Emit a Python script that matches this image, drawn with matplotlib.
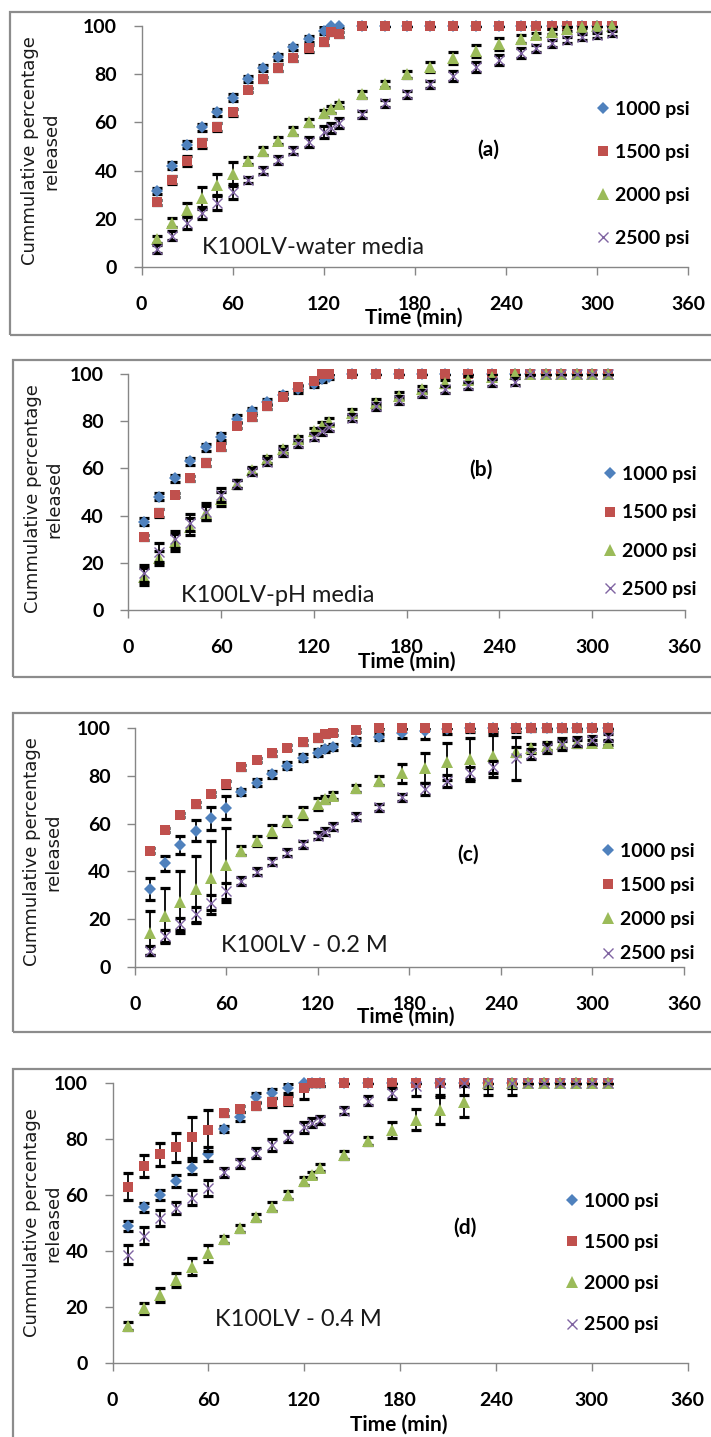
import matplotlib.pyplot as plt
from matplotlib.lines import Line2D
from matplotlib.patches import Rectangle

W, H = 711, 1437

time_min = [10, 20, 30, 40, 50, 60, 70, 80, 90, 100, 110, 120, 125, 130,
            145, 160, 175, 190, 205, 220, 235, 250, 260, 270, 280, 290, 300, 310]
pressures = ['1000 psi', '1500 psi', '2000 psi', '2500 psi']

# (a) K100LV in water
a_1000 = [31.6, 42.1, 50.8, 57.9, 64.1, 70.2, 77.9, 82.6, 87.0, 91.0, 94.6, 97.9, 100, 100,
          100, 100, 100, 100, 100, 100, 100, 100, 100, 100, 100, 100, 100, 100]
a_1500 = [26.9, 36.1, 43.9, 51.3, 58.1, 64.1, 73.4, 77.8, 82.6, 86.5, 90.6, 93.4, 97.2, 96.4,
          100, 100, 100, 100, 100, 100, 100, 100, 100, 100, 100, 100, 100, 100]
a_2000 = [11.6, 18.5, 23.7, 28.6, 34.1, 38.6, 44.1, 48.1, 52.4, 56.4, 60.0, 63.7, 65.4, 67.4,
          71.6, 75.9, 79.9, 83.0, 86.5, 89.5, 92.3, 94.5, 96.1, 97.5, 98.5, 99.6, 100, 100]
a_2500 = [7.6, 13.1, 18.5, 22.3, 26.8, 31.3, 36.1, 40.0, 44.4, 48.3, 52.0, 55.9, 57.7, 59.6,
          63.4, 67.9, 71.6, 75.7, 79.3, 83.0, 85.8, 88.6, 90.6, 92.7, 94.1, 95.2, 96.1, 96.8]
a_1000_sd = [1.2, 1.5, 1.5, 1.5, 1.5, 1.5, 1.2, 1.2, 1.2, 1.2, 1.2, 1.5, 1.2, 1.0,
             0, 0, 0, 0, 0, 0, 0, 0, 0, 0, 0, 0, 0, 0]
a_1500_sd = [1.0, 1.7, 2.0, 2.0, 1.5, 1.5, 1.0, 1.0, 1.5, 1.0, 1.5, 1.5, 1.0, 1.0,
             0, 0, 0, 0, 0, 0, 0, 0, 0, 0, 0, 0, 0, 0]
a_2000_sd = [1.5, 2.0, 3.0, 4.6, 4.5, 5.0, 1.5, 1.5, 1.5, 1.5, 1.5, 1.5, 1.5, 1.2,
             1.5, 1.2, 1.5, 2.0, 2.5, 2.5, 2.5, 1.5, 1.0, 1.0, 0.8, 0.5, 0, 0]
a_2500_sd = [1.5, 2.0, 2.5, 2.5, 3.0, 3.0, 1.2, 1.5, 1.5, 1.5, 2.0, 2.5, 2.0, 2.0,
             1.5, 1.5, 1.5, 1.5, 2.0, 2.0, 2.0, 2.0, 1.5, 1.5, 1.2, 1.2, 1.0, 1.0]

# (b) K100LV in pH medium
b_1000 = [37.4, 48.0, 55.8, 63.0, 68.9, 73.4, 81.1, 84.5, 88.0, 91.1, 93.6, 95.9, 97.7, 98.9,
          100, 100, 100, 100, 100, 100, 100, 100, 100, 100, 100, 100, 100, 100]
b_1500 = [30.8, 41.1, 48.7, 55.8, 62.4, 69.2, 78.1, 81.6, 86.3, 90.4, 94.4, 97.2, 100, 100,
          100, 100, 100, 100, 100, 100, 100, 100, 100, 100, 100, 100, 100, 100]
b_2000 = [14.1, 21.9, 28.7, 35.3, 41.2, 46.9, 53.4, 59.3, 63.8, 68.1, 72.3, 75.8, 78.0, 79.8,
          83.6, 87.9, 90.7, 93.5, 96.0, 97.5, 98.9, 100, 100, 100, 100, 100, 100, 100]
b_2500 = [15.5, 24.4, 29.9, 37.0, 41.7, 48.7, 53.4, 58.6, 62.9, 66.8, 70.6, 73.4, 75.8, 77.4,
          81.5, 86.4, 89.0, 91.8, 93.5, 95.3, 96.5, 96.8, 100, 100, 100, 100, 100, 100]
b_1000_sd = [1.5, 1.5, 1.5, 1.5, 1.5, 1.5, 1.5, 1.2, 1.2, 1.2, 1.5, 1.5, 1.2, 1.0,
             0, 0, 0, 0, 0, 0, 0, 0, 0, 0, 0, 0, 0, 0]
b_1500_sd = [1.0, 1.5, 1.0, 1.0, 1.5, 1.5, 1.0, 1.0, 1.0, 1.0, 1.0, 1.0, 0, 0,
             0, 0, 0, 0, 0, 0, 0, 0, 0, 0, 0, 0, 0, 0]
b_2000_sd = [3.5, 3.0, 3.5, 3.5, 3.0, 3.0, 1.5, 1.5, 1.5, 1.5, 1.5, 1.5, 1.5, 1.5,
             1.5, 1.5, 1.5, 1.5, 1.5, 1.5, 1.0, 0, 0, 0, 0, 0, 0, 0]
b_2500_sd = [3.5, 4.0, 3.5, 3.5, 3.5, 3.0, 1.5, 1.5, 1.5, 1.5, 1.5, 1.5, 1.5, 1.5,
             1.5, 1.5, 1.5, 1.5, 1.5, 1.5, 1.5, 1.5, 0.5, 0, 0, 0, 0, 0]

# (c) K100LV in 0.2 M medium
c_1000 = [32.5, 43.4, 51.0, 57.0, 62.2, 66.6, 73.3, 77.1, 80.5, 84.1, 87.5, 89.6, 91.0, 92.1,
          94.4, 96.2, 97.6, 98.6, 99.3, 100, 100, 100, 100, 100, 100, 100, 100, 100]
c_1500 = [48.7, 57.3, 63.6, 68.0, 72.3, 76.4, 83.4, 86.5, 89.3, 91.7, 93.9, 95.8, 97.2, 97.9,
          99.0, 100, 100, 100, 100, 100, 100, 100, 100, 100, 100, 100, 100, 100]
c_2000 = [14.2, 21.6, 27.4, 32.5, 37.4, 42.7, 48.7, 52.7, 57.0, 61.1, 64.3, 68.0, 70.1, 71.6,
          74.7, 77.9, 80.9, 83.3, 85.8, 86.9, 88.2, 90.0, 91.4, 92.4, 93.1, 93.5, 93.7, 93.7]
c_2500 = [7.0, 13.1, 17.9, 22.1, 27.0, 31.8, 36.0, 39.9, 44.1, 47.8, 51.3, 54.9, 56.6, 58.7,
          62.9, 66.8, 70.9, 74.3, 77.9, 80.9, 83.4, 87.2, 89.0, 91.4, 93.2, 94.2, 94.9, 96.0]
c_1000_sd = [4.6, 3.2, 3.6, 4.4, 4.8, 4.8, 1.2, 1.5, 1.5, 1.5, 1.5, 1.5, 1.2, 1.2,
             1.5, 1.2, 2.0, 3.3, 2.0, 2.0, 2.0, 2.0, 1.5, 1.5, 1.5, 1.5, 1.0, 1.0]
c_1500_sd = [1.0, 1.0, 1.0, 1.0, 1.0, 1.5, 1.0, 1.0, 1.0, 1.0, 1.0, 1.5, 1.0, 1.0,
             1.0, 0.5, 0, 0, 0, 0, 0, 0, 0, 0, 0, 0, 0, 0]
c_2000_sd = [9.2, 11.5, 13.0, 14.0, 15.3, 15.5, 2.0, 2.0, 2.5, 2.0, 2.5, 2.5, 1.5, 1.5,
             1.5, 2.0, 4.0, 6.3, 7.7, 9.0, 8.7, 2.0, 2.0, 1.5, 1.5, 1.5, 1.0, 1.0]
c_2500_sd = [2.0, 2.5, 2.5, 3.0, 3.0, 3.5, 1.5, 1.5, 1.5, 1.5, 1.5, 1.5, 1.5, 1.5,
             1.5, 1.5, 1.5, 2.5, 2.5, 2.5, 2.5, 9.0, 2.0, 2.0, 2.5, 2.0, 1.5, 1.5]

# (d) K100LV in 0.4 M medium
d_1000 = [49.2, 55.7, 60.1, 65.1, 69.9, 74.6, 83.7, 88.1, 95.0, 96.4, 98.2, 100, 100, 100,
          100, 100, 100, 100, 100, 100, 100, 100, 100, 100, 100, 100, 100, 100]
d_1500 = [63.1, 70.5, 74.6, 77.1, 80.7, 83.3, 89.3, 90.8, 91.9, 93.2, 93.8, 98.5, 100, 100,
          100, 100, 100, 100, 100, 100, 100, 100, 100, 100, 100, 100, 100, 100]
d_2000 = [13.3, 19.6, 24.4, 29.8, 34.5, 39.3, 44.3, 48.2, 52.1, 56.0, 60.1, 65.1, 67.3, 69.9,
          74.4, 79.4, 83.3, 86.9, 90.4, 93.5, 100, 100, 100, 100, 100, 100, 100, 100]
d_2500 = [38.7, 45.6, 52.0, 55.4, 59.2, 62.5, 68.2, 71.4, 75.0, 78.0, 81.0, 84.3, 86.0, 86.9,
          90.2, 93.8, 96.5, 99.0, 100, 100, 100, 100, 100, 100, 100, 100, 100, 100]
d_1000_sd = [1.8, 1.5, 1.8, 2.0, 2.2, 2.5, 1.2, 1.5, 1.5, 1.5, 1.5, 2.0, 1.0, 1.0,
             0, 0, 0, 0, 0, 0, 0, 0, 0, 0, 0, 0, 0, 0]
d_1500_sd = [4.9, 4.0, 4.2, 5.2, 7.2, 7.3, 1.0, 1.0, 1.0, 1.5, 1.5, 4.0, 1.0, 1.0,
             0, 0, 0, 0, 0, 0, 0, 0, 0, 0, 0, 0, 0, 0]
d_2000_sd = [1.5, 2.0, 2.4, 2.6, 3.0, 3.1, 1.2, 1.2, 1.2, 1.5, 1.5, 1.5, 1.2, 1.2,
             1.5, 1.5, 3.0, 3.75, 4.8, 5.7, 1.5, 1.5, 0, 0, 0, 0, 0, 0]
d_2500_sd = [3.4, 3.1, 2.8, 2.2, 2.7, 2.9, 1.5, 1.5, 1.8, 2.0, 2.0, 2.0, 1.5, 1.5,
             1.2, 1.5, 2.0, 3.5, 4.0, 4.0, 4.0, 4.0, 0, 0, 0, 0, 0, 0]

# marker, colour, size for each pressure
styles = [('D', '#4F81BD', 6.5), ('s', '#C0504D', 7.5), ('^', '#9BBB59', 8.5), ('x', '#8064A2', 7.0)]

BOLD = dict(family='Lato', weight='bold')

# pixel layout of each panel
panels = [
    dict(vals=(a_1000, a_1500, a_2000, a_2500), sds=(a_1000_sd, a_1500_sd, a_2000_sd, a_2500_sd),
         media='K100LV-water media', tag='(a)', axes=(141.5, 25.7, 688.4, 267.3), frame=(9.5, 12, 335),
         ylab=(41, 151), xlab=(413.6, 318), media_xy=(202, 247), tag_xy=(488, 150),
         leg=(603, 174), leg_gap=1.34),
    dict(vals=(b_1000, b_1500, b_2000, b_2500), sds=(b_1000_sd, b_1500_sd, b_2000_sd, b_2500_sd),
         media='K100LV-pH media', tag='(b)', axes=(128.3, 374, 684.8, 610), frame=(12.7, 360, 677),
         ylab=(44, 499), xlab=(407, 662), media_xy=(181, 595), tag_xy=(480.7, 470),
         leg=(610, 532), leg_gap=1.09),
    dict(vals=(c_1000, c_1500, c_2000, c_2500), sds=(c_1000_sd, c_1500_sd, c_2000_sd, c_2500_sd),
         media='K100LV - 0.2 M', tag='(c)', axes=(134.7, 727.7, 683.9, 967.3), frame=(12.7, 712.7, 1032),
         ylab=(43, 852), xlab=(406, 1017), media_xy=(221, 945), tag_xy=(468.5, 855),
         leg=(607.7, 902.5), leg_gap=0.89),
    dict(vals=(d_1000, d_1500, d_2000, d_2500), sds=(d_1000_sd, d_1500_sd, d_2000_sd, d_2500_sd),
         media='K100LV - 0.4 M', tag='(d)', axes=(112.5, 1083.3, 687.5, 1363.3), frame=(12.7, 1069.3, 1450),
         ylab=(43, 1223), xlab=(399, 1425), media_xy=(215, 1320), tag_xy=(465, 1228),
         leg=(572, 1263), leg_gap=1.25),
]


def fx(x):
    return x / W


def fy(y):
    return 1 - y / H


fig = plt.figure(figsize=(W / 100, H / 100), dpi=100)

for p in panels:
    l, t, r, b = p['axes']
    ax = fig.add_axes([fx(l), fy(b), (r - l) / W, (b - t) / H])

    for i, (vals, sd) in enumerate(zip(p['vals'], p['sds'])):
        marker, color, ms = styles[i]
        ax.errorbar(time_min, vals, yerr=sd, fmt='none', ecolor='black', elinewidth=1.3,
                    capsize=3.6, capthick=2.3, zorder=2 + 2 * i)
        ax.plot(time_min, vals, linestyle='none', marker=marker, color=color, ms=ms,
                mew=1.0 if marker == 'x' else 0, clip_on=False, zorder=3 + 2 * i)

    ax.set_xlim(0, 360)
    ax.set_ylim(0, 100)
    ax.set_xticks(range(0, 361, 60))
    ax.set_yticks(range(0, 101, 20))
    for side in ('top', 'right'):
        ax.spines[side].set_visible(False)
    for side in ('left', 'bottom'):
        ax.spines[side].set_color('#868686')
        ax.spines[side].set_linewidth(1.0)
    ax.tick_params(axis='x', length=5.5, width=1, color='#868686', pad=15.5)
    ax.tick_params(axis='y', length=6, width=1, color='#868686', pad=11.5)
    for lab in ax.get_xticklabels() + ax.get_yticklabels():
        lab.set_fontfamily('Lato')
        lab.set_fontweight('bold')
        lab.set_fontsize(14)

    # legend: markers only, no error bars
    handles = [Line2D([], [], linestyle='none', marker=m, color=c, ms=s - 0.5, mew=1.0 if m == 'x' else 0)
               for m, c, s in styles]
    lx, ly = p['leg']
    ax.legend(handles, pressures, loc='center left', bbox_to_anchor=(fx(lx - 7.5), fy(ly)),
              bbox_transform=fig.transFigure, frameon=False, borderpad=0, borderaxespad=0,
              handlelength=0.8, handletextpad=0.2, labelspacing=p['leg_gap'],
              prop=dict(family='Lato', weight='bold', size=14))

    fig.text(fx(p['media_xy'][0]), fy(p['media_xy'][1]), p['media'], family='Lato',
             fontsize=17, ha='left', va='center', color='#1a1a1a')
    fig.text(fx(p['tag_xy'][0]), fy(p['tag_xy'][1]), p['tag'], fontsize=15, ha='center',
             va='center', **BOLD)
    fig.text(fx(p['xlab'][0]), fy(p['xlab'][1]), 'Time (min)', fontsize=15, ha='center',
             va='center', **BOLD)
    fig.text(fx(p['ylab'][0]), fy(p['ylab'][1]), 'Cummulative percentage\nreleased',
             family='DejaVu Sans', fontsize=13, rotation=90, ha='center', va='center',
             multialignment='center', linespacing=1.26, color='#1a1a1a')

    x0, top, bottom = p['frame']
    fig.add_artist(Rectangle((fx(x0), fy(bottom)), (730 - x0) / W, (bottom - top) / H,
                             transform=fig.transFigure, fill=False, edgecolor='#8c8c8c',
                             linewidth=1.6))

fig.savefig('out.png', dpi=100)
